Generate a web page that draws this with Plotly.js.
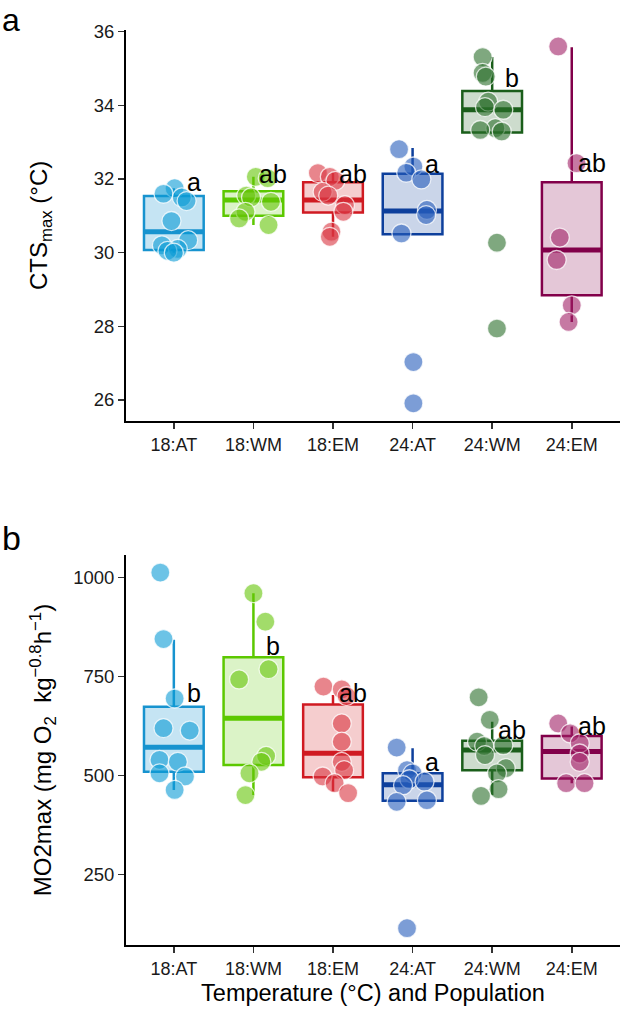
<!DOCTYPE html>
<html>
<head>
<meta charset="utf-8">
<script src="https://cdn.plot.ly/plotly-3.0.1.min.js"></script>
<style>
  html, body { margin: 0; padding: 0; background: #fff; }
  #grafica { width: 624px; height: 1014px; }
</style>
</head>
<body>
<div id="grafica"></div>
<script>
const categorias = ['18:AT', '18:WM', '18:EM', '24:AT', '24:WM', '24:EM'];

const colorLinea = ['#1793CF', '#5CC800', '#D01A22', '#0D3F9C', '#1A5E1A', '#82004A'];
const colorPunto = ['rgba(10,155,213,0.6)', 'rgba(100,197,7,0.6)', 'rgba(217,52,63,0.6)',
  'rgba(37,92,187,0.6)', 'rgba(42,110,42,0.6)', 'rgba(160,32,102,0.6)'];
const colorRelleno = ['rgba(23,147,207,0.25)', 'rgba(92,200,0,0.22)', 'rgba(208,26,34,0.22)',
  'rgba(13,63,156,0.22)', 'rgba(26,94,26,0.22)', 'rgba(130,0,74,0.22)'];

// panel a: CTSmax (°C)
const ctsValores = [
  [31.75, 31.6, 31.5, 31.4, 30.86, 30.34, 30.2, 30.1, 30.05, 30.0],
  [32.06, 32.02, 31.55, 31.5, 31.38, 31.11, 30.93, 30.75],
  [32.16, 32.06, 31.95, 31.65, 31.55, 31.29, 31.11, 30.57, 30.43],
  [32.81, 32.34, 32.17, 31.99, 31.16, 31.02, 30.52, 27.03, 25.91],
  [35.31, 34.88, 34.78, 34.1, 33.95, 33.88, 33.38, 33.33, 33.29, 30.27, 27.94],
  [35.6, 32.43, 30.41, 29.8, 28.57, 28.12]
];
const ctsJitter = [
  [0.01, -0.13, 0.1, 0.16, -0.03, 0.18, -0.15, 0.05, -0.08, 0.0],
  [0.03, 0.18, -0.09, -0.03, 0.22, -0.1, -0.18, 0.19],
  [-0.19, -0.04, 0.03, -0.13, -0.06, 0.15, 0.13, -0.02, -0.04],
  [-0.17, 0.01, -0.08, 0.11, 0.18, 0.17, -0.14, 0.01, 0.01],
  [-0.12, -0.12, -0.08, -0.05, -0.09, 0.14, 0.04, -0.15, 0.12, 0.06, 0.06],
  [-0.17, 0.06, -0.15, -0.19, 0.0, -0.04]
];
const ctsQ1 = [30.07, 31.0, 31.09, 30.5, 33.26, 28.84];
const ctsMediana = [30.57, 31.43, 31.43, 31.13, 33.88, 30.07];
const ctsQ3 = [31.54, 31.67, 31.91, 32.14, 34.39, 31.91];
const ctsMin = [30.0, 30.75, 30.43, 30.5, 33.25, 28.12];
const ctsMax = [31.75, 32.06, 32.16, 32.84, 35.31, 35.58];
const ctsLetras = ['a', 'ab', 'ab', 'a', 'b', 'ab'];
const ctsLetraY = [31.93, 32.14, 32.14, 32.41, 34.74, 32.43];

// panel b: MO2max
const moValores = [
  [1012, 844, 694, 619, 613, 539, 534, 505, 497, 463],
  [960, 888, 768, 742, 549, 534, 505, 450],
  [724, 717, 700, 631, 585, 534, 513, 497, 480, 455],
  [570, 513, 505, 490, 484, 475, 437, 433, 114],
  [697, 640, 585, 576, 574, 551, 518, 505, 465, 448],
  [631, 606, 581, 555, 534, 480, 480]
];
const moJitter = [
  [-0.17, -0.13, 0.01, -0.13, 0.2, -0.18, 0.05, -0.18, 0.14, 0.01],
  [0.0, 0.15, 0.19, -0.18, 0.16, 0.1, -0.05, -0.1],
  [-0.12, 0.11, 0.17, 0.11, 0.11, 0.11, 0.14, -0.13, 0.02, 0.19],
  [-0.2, -0.07, 0.0, -0.04, 0.15, -0.12, 0.18, -0.2, -0.07],
  [-0.17, -0.03, -0.19, 0.14, -0.1, -0.09, 0.17, 0.06, 0.08, -0.14],
  [-0.17, -0.02, 0.1, 0.1, 0.1, -0.07, 0.16]
];
const moQ1 = [509, 526, 495, 436, 513, 492];
const moMediana = [571, 644, 556, 476, 564, 560];
const moQ3 = [673, 798, 679, 505, 587, 599];
const moMin = [463, 450, 459, 433, 450, 480];
const moMax = [842, 960, 703, 568, 635, 623];
const moLetras = ['b', 'b', 'ab', 'a', 'ab', 'ab'];
const moLetraY = [707, 826, 709, 534, 614, 625];

const ANCHO_CAJA = 0.75;
const FUENTE = 'Liberation Sans, Arial, sans-serif';

function trazasPanel(valores, jitter, q1, mediana, q3, vmin, vmax, xa, ya) {
  const cajas = [];
  const medianas = [];
  const puntos = [];
  categorias.forEach((cat, i) => {
    cajas.push({
      type: 'box',
      x: [i],
      q1: [q1[i]],
      median: [mediana[i]],
      q3: [q3[i]],
      lowerfence: [vmin[i]],
      upperfence: [vmax[i]],
      width: ANCHO_CAJA,
      whiskerwidth: 0,
      boxpoints: false,
      fillcolor: colorRelleno[i],
      line: { color: colorLinea[i], width: 2.5 },
      hoverinfo: 'skip',
      showlegend: false,
      xaxis: xa,
      yaxis: ya
    });
    medianas.push({
      type: 'scatter',
      mode: 'lines',
      x: [i - ANCHO_CAJA / 2, i + ANCHO_CAJA / 2],
      y: [mediana[i], mediana[i]],
      line: { color: colorLinea[i], width: 5 },
      hoverinfo: 'skip',
      showlegend: false,
      xaxis: xa,
      yaxis: ya
    });
    puntos.push({
      type: 'scatter',
      mode: 'markers',
      x: jitter[i].map(d => i + d),
      y: valores[i],
      marker: {
        size: 19,
        color: colorPunto[i],
        line: { color: 'rgba(255,255,255,0.75)', width: 1.3 }
      },
      hoverinfo: 'y',
      showlegend: false,
      xaxis: xa,
      yaxis: ya
    });
  });
  return cajas.concat(medianas, puntos);
}

function letras(textos, ys, xref, yref) {
  return textos.map((t, i) => ({
    x: i + 0.25,
    y: ys[i],
    xref: xref,
    yref: yref,
    text: t,
    showarrow: false,
    xanchor: 'center',
    yanchor: 'middle',
    font: { family: FUENTE, size: 25, color: '#000' }
  }));
}

const ejeBase = {
  showline: true,
  linecolor: '#000',
  linewidth: 2.5,
  ticks: 'outside',
  ticklen: 6,
  tickwidth: 1.6,
  tickcolor: '#333',
  showgrid: false,
  zeroline: false,
  tickfont: { family: FUENTE, size: 18.5, color: '#1a1a1a' }
};

function ejeX(anchor) {
  return Object.assign({}, ejeBase, {
    domain: [0.2027, 0.9928],
    range: [-0.595, 5.6],
    anchor: anchor,
    tickmode: 'array',
    tickvals: categorias.map((c, i) => i),
    ticktext: categorias,
    tickfont: { family: FUENTE, size: 18, color: '#1a1a1a' }
  });
}

const trazas = [
  ...trazasPanel(ctsValores, ctsJitter, ctsQ1, ctsMediana, ctsQ3, ctsMin, ctsMax, 'x', 'y'),
  ...trazasPanel(moValores, moJitter, moQ1, moMediana, moQ3, moMin, moMax, 'x2', 'y2')
];

const layout = {
  width: 624,
  height: 1014,
  margin: { l: 0, r: 0, t: 0, b: 0 },
  paper_bgcolor: '#fff',
  plot_bgcolor: '#fff',
  font: { family: FUENTE, color: '#000' },
  showlegend: false,
  xaxis: ejeX('y'),
  yaxis: Object.assign({}, ejeBase, {
    domain: [0.58511, 0.97041],
    range: [25.437, 36.046],
    anchor: 'x',
    tickvals: [26, 28, 30, 32, 34, 36],
    title: { text: 'CTS<sub>max</sub> (°C)', standoff: 40, font: { family: FUENTE, size: 24, color: '#000' } }
  }),
  xaxis2: Object.assign(ejeX('y2'), {
    title: { text: 'Temperature (°C) and Population', standoff: 7, font: { family: FUENTE, size: 23.5, color: '#000' } }
  }),
  yaxis2: Object.assign({}, ejeBase, {
    domain: [0.06805, 0.45266],
    range: [71.5, 1056.3],
    anchor: 'x2',
    tickvals: [250, 500, 750, 1000],
    title: { text: 'MO2max (mg O<sub>2</sub>&nbsp;&nbsp;kg<sup>−0.8</sup>h<sup>−1</sup>)', standoff: 15, font: { family: FUENTE, size: 24, color: '#000' } }
  }),
  annotations: [
    ...letras(ctsLetras, ctsLetraY, 'x', 'y'),
    ...letras(moLetras, moLetraY, 'x2', 'y2'),
    { x: 0, y: 1, xref: 'paper', yref: 'paper', text: 'a', showarrow: false,
      xanchor: 'left', yanchor: 'top', font: { family: FUENTE, size: 32, color: '#000' } },
    { x: 0, y: 1 - 538 / 1014, xref: 'paper', yref: 'paper', text: 'b', showarrow: false,
      xanchor: 'left', yanchor: 'middle', font: { family: FUENTE, size: 34, color: '#000' } }
  ]
};

Plotly.newPlot('grafica', trazas, layout, { displayModeBar: false, staticPlot: true });
</script>
</body>
</html>
